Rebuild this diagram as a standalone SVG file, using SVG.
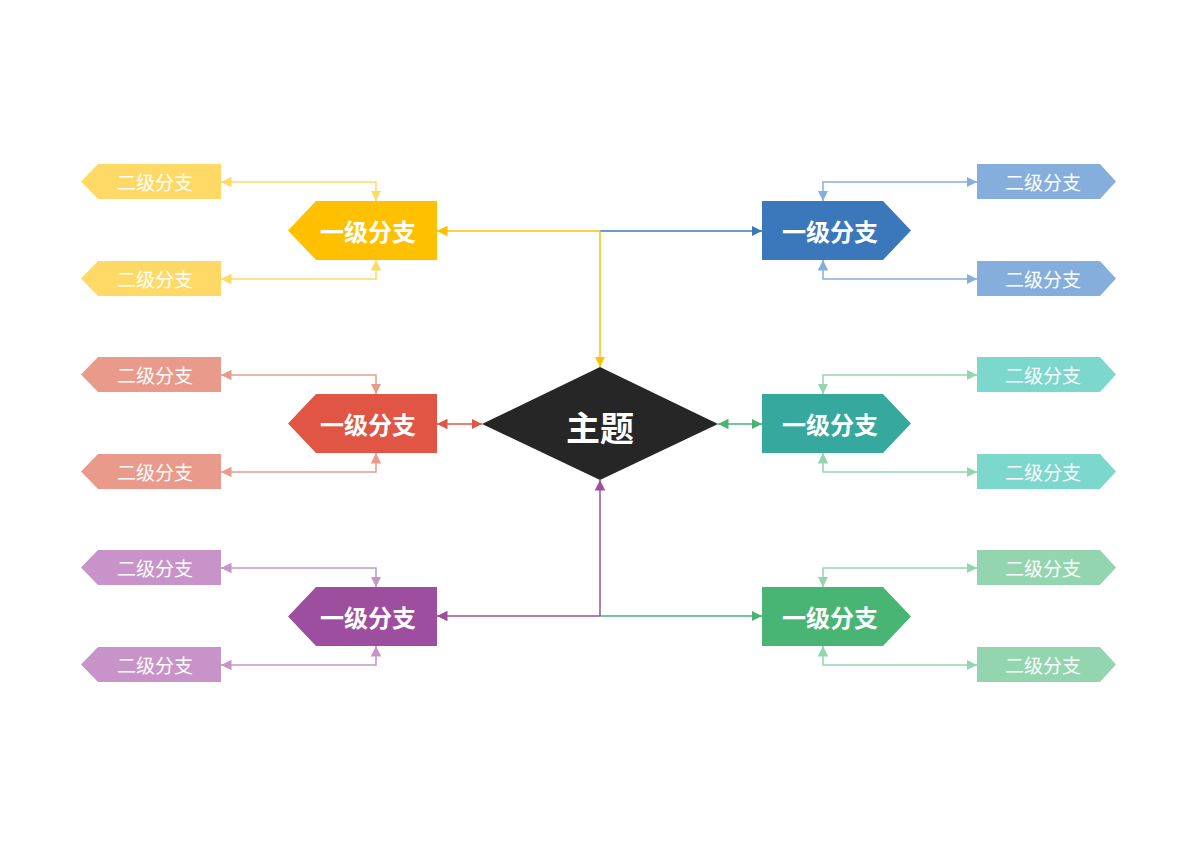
<svg xmlns="http://www.w3.org/2000/svg" width="1200" height="848" viewBox="0 0 1200 848">
<style>
.t1{font-family:"Noto Sans CJK SC",sans-serif;font-weight:bold;font-size:24px;fill:#fff;text-anchor:middle;dominant-baseline:central}
.t2{font-family:"Noto Sans CJK SC",sans-serif;font-size:19px;fill:#fff;text-anchor:middle;dominant-baseline:central}
.t0{font-family:"Noto Sans CJK SC",sans-serif;font-weight:bold;font-size:34px;fill:#fff;text-anchor:middle;dominant-baseline:central}
path.c{fill:none;stroke-width:1.5}
</style>
<defs>
<marker id="mY" viewBox="0 0 10 10" refX="10" refY="5" markerWidth="7" markerHeight="7" orient="auto-start-reverse"><path d="M0 0L10 5L0 10z" fill="#FFC000"/></marker>
<marker id="my" viewBox="0 0 10 10" refX="10" refY="5" markerWidth="7" markerHeight="7" orient="auto-start-reverse"><path d="M0 0L10 5L0 10z" fill="#FFD966"/></marker>
<marker id="mB" viewBox="0 0 10 10" refX="10" refY="5" markerWidth="7" markerHeight="7" orient="auto-start-reverse"><path d="M0 0L10 5L0 10z" fill="#3B78BB"/></marker>
<marker id="mb" viewBox="0 0 10 10" refX="10" refY="5" markerWidth="7" markerHeight="7" orient="auto-start-reverse"><path d="M0 0L10 5L0 10z" fill="#85AEDD"/></marker>
<marker id="mR" viewBox="0 0 10 10" refX="10" refY="5" markerWidth="7" markerHeight="7" orient="auto-start-reverse"><path d="M0 0L10 5L0 10z" fill="#E05543"/></marker>
<marker id="mr" viewBox="0 0 10 10" refX="10" refY="5" markerWidth="7" markerHeight="7" orient="auto-start-reverse"><path d="M0 0L10 5L0 10z" fill="#EA9A8A"/></marker>
<marker id="mT" viewBox="0 0 10 10" refX="10" refY="5" markerWidth="7" markerHeight="7" orient="auto-start-reverse"><path d="M0 0L10 5L0 10z" fill="#48B574"/></marker>
<marker id="mt" viewBox="0 0 10 10" refX="10" refY="5" markerWidth="7" markerHeight="7" orient="auto-start-reverse"><path d="M0 0L10 5L0 10z" fill="#7CD7CC"/></marker>
<marker id="mP" viewBox="0 0 10 10" refX="10" refY="5" markerWidth="7" markerHeight="7" orient="auto-start-reverse"><path d="M0 0L10 5L0 10z" fill="#9E4E9E"/></marker>
<marker id="mp" viewBox="0 0 10 10" refX="10" refY="5" markerWidth="7" markerHeight="7" orient="auto-start-reverse"><path d="M0 0L10 5L0 10z" fill="#C893C8"/></marker>
<marker id="mG" viewBox="0 0 10 10" refX="10" refY="5" markerWidth="7" markerHeight="7" orient="auto-start-reverse"><path d="M0 0L10 5L0 10z" fill="#48B574"/></marker>
<marker id="mg" viewBox="0 0 10 10" refX="10" refY="5" markerWidth="7" markerHeight="7" orient="auto-start-reverse"><path d="M0 0L10 5L0 10z" fill="#92D5AE"/></marker>
</defs>
<rect width="1200" height="848" fill="#fff"/>
<g id="connectors">
<path class="c" stroke="#3B78BB" d="M600 231H762" marker-end="url(#mB)"/>
<path class="c" stroke="#FFC000" d="M600 231H437" marker-end="url(#mY)"/>
<path class="c" stroke="#FFC000" d="M600 231V367" marker-end="url(#mY)"/>
<path class="c" stroke="#48B574" d="M600 616H762" marker-end="url(#mG)"/>
<path class="c" stroke="#9E4E9E" d="M600 616H437" marker-end="url(#mP)"/>
<path class="c" stroke="#9E4E9E" d="M600 616V480" marker-end="url(#mP)"/>
<path class="c" stroke="#E05543" d="M437 424H482" marker-start="url(#mR)" marker-end="url(#mR)"/>
<path class="c" stroke="#48B574" d="M718 424H762" marker-start="url(#mT)" marker-end="url(#mT)"/>
<path class="c" stroke="#FFD966" d="M221 182H376V201" marker-start="url(#my)" marker-end="url(#my)"/>
<path class="c" stroke="#FFD966" d="M221 279H376V260" marker-start="url(#my)" marker-end="url(#my)"/>
<path class="c" stroke="#EA9A8A" d="M221 375H376V394" marker-start="url(#mr)" marker-end="url(#mr)"/>
<path class="c" stroke="#EA9A8A" d="M221 472H376V453" marker-start="url(#mr)" marker-end="url(#mr)"/>
<path class="c" stroke="#C893C8" d="M221 568H376V587" marker-start="url(#mp)" marker-end="url(#mp)"/>
<path class="c" stroke="#C893C8" d="M221 665H376V646" marker-start="url(#mp)" marker-end="url(#mp)"/>
<path class="c" stroke="#85AEDD" d="M977 182H823V201" marker-start="url(#mb)" marker-end="url(#mb)"/>
<path class="c" stroke="#85AEDD" d="M977 279H823V260" marker-start="url(#mb)" marker-end="url(#mb)"/>
<path class="c" stroke="#92D5AE" d="M977 375H823V394" marker-start="url(#mg)" marker-end="url(#mg)"/>
<path class="c" stroke="#92D5AE" d="M977 472H823V453" marker-start="url(#mg)" marker-end="url(#mg)"/>
<path class="c" stroke="#92D5AE" d="M977 568H823V587" marker-start="url(#mg)" marker-end="url(#mg)"/>
<path class="c" stroke="#92D5AE" d="M977 665H823V646" marker-start="url(#mg)" marker-end="url(#mg)"/>
</g>
<g id="center"><path d="M600 367L718 424L600 480L482 424z" fill="#262626"/><text class="t0" x="600" y="426">主题</text></g>
<g id="L1"><path d="M316 201H437V260H316L288 230.5z" fill="#FFC000"/><text class="t1" x="368" y="230">一级分支</text></g>
<g id="L2"><path d="M316 394H437V453H316L288 423.5z" fill="#E05543"/><text class="t1" x="368" y="423">一级分支</text></g>
<g id="L3"><path d="M316 587H437V646H316L288 616.5z" fill="#9E4E9E"/><text class="t1" x="368" y="616">一级分支</text></g>
<g id="R1"><path d="M762 201H883L911 230.5L883 260H762z" fill="#3B78BB"/><text class="t1" x="830" y="230">一级分支</text></g>
<g id="R2"><path d="M762 394H883L911 423.5L883 453H762z" fill="#37A89E"/><text class="t1" x="830" y="423">一级分支</text></g>
<g id="R3"><path d="M762 587H883L911 616.5L883 646H762z" fill="#48B574"/><text class="t1" x="830" y="616">一级分支</text></g>
<g id="L1a"><path d="M98 164H221V199H98L81 181.5z" fill="#FFD966"/><text class="t2" x="155" y="181">二级分支</text></g>
<g id="L1b"><path d="M98 261H221V296H98L81 278.5z" fill="#FFD966"/><text class="t2" x="155" y="278">二级分支</text></g>
<g id="L2a"><path d="M98 357H221V392H98L81 374.5z" fill="#EA9A8A"/><text class="t2" x="155" y="374">二级分支</text></g>
<g id="L2b"><path d="M98 454H221V489H98L81 471.5z" fill="#EA9A8A"/><text class="t2" x="155" y="471">二级分支</text></g>
<g id="L3a"><path d="M98 550H221V585H98L81 567.5z" fill="#C893C8"/><text class="t2" x="155" y="567">二级分支</text></g>
<g id="L3b"><path d="M98 647H221V682H98L81 664.5z" fill="#C893C8"/><text class="t2" x="155" y="664">二级分支</text></g>
<g id="R1a"><path d="M977 164H1100L1116 181.5L1100 199H977z" fill="#85AEDD"/><text class="t2" x="1043" y="181">二级分支</text></g>
<g id="R1b"><path d="M977 261H1100L1116 278.5L1100 296H977z" fill="#85AEDD"/><text class="t2" x="1043" y="278">二级分支</text></g>
<g id="R2a"><path d="M977 357H1100L1116 374.5L1100 392H977z" fill="#7CD7CC"/><text class="t2" x="1043" y="374">二级分支</text></g>
<g id="R2b"><path d="M977 454H1100L1116 471.5L1100 489H977z" fill="#7CD7CC"/><text class="t2" x="1043" y="471">二级分支</text></g>
<g id="R3a"><path d="M977 550H1100L1116 567.5L1100 585H977z" fill="#92D5AE"/><text class="t2" x="1043" y="567">二级分支</text></g>
<g id="R3b"><path d="M977 647H1100L1116 664.5L1100 682H977z" fill="#92D5AE"/><text class="t2" x="1043" y="664">二级分支</text></g>
</svg>
